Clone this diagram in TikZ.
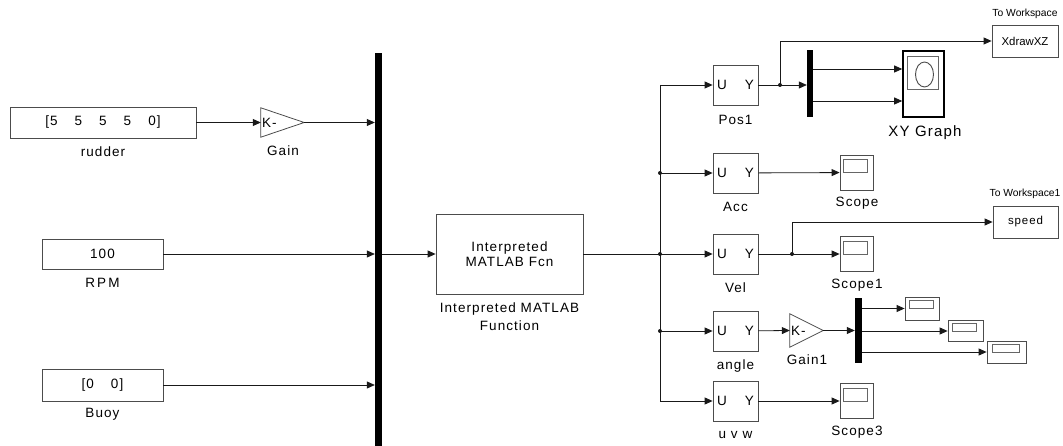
\documentclass[tikz,border=0pt]{standalone}
\usepackage{fontspec}
\setmainfont[LetterSpace=8]{Liberation Sans}
\newfontfamily\plainsans{Liberation Sans}
\usetikzlibrary{arrows.meta}

\begin{document}
\begin{tikzpicture}[x=1pt,y=-1pt,
  blk/.style={draw=black!70,line width=0.8pt,inner sep=0pt,fill=white,font=\fontsize{13.5}{15}\selectfont},
  uy/.style={blk,minimum width=45,minimum height=40},
  scp/.style={blk,minimum width=33,minimum height=35},
  lbl/.style={inner sep=0pt,font=\fontsize{13.5}{18}\selectfont,align=center},
  wsl/.style={inner sep=0pt,font=\plainsans\fontsize{10.3}{12}\selectfont},
  sig/.style={-{Triangle[length=8pt,width=7pt]},line width=0.8pt,draw=black!90},
  wire/.style={line width=0.8pt,draw=black!90},
  bar/.style={fill=black,inner sep=0pt,minimum width=7}]
\useasboundingbox (0,0) rectangle (1063,446);

% inputs
\node[blk,minimum width=186,minimum height=31] (rudder) at (103,122.5) {[5\hspace{17pt}5\hspace{17pt}5\hspace{17pt}5\hspace{17pt}0]};
\node[lbl] (rudderlbl) at (103,152) {rudder};
\node[blk,minimum width=121,minimum height=30] (rpm) at (102.5,254) {100};
\node[lbl] (rpmlbl) at (102.5,283) {R\,P\,M};
\node[blk,minimum width=121,minimum height=32] (buoy) at (102.5,385) {[0\hspace{17pt}0]};
\node[lbl] (buoylbl) at (102.5,414) {Buoy};

\node[minimum width=43,minimum height=29,inner sep=0pt] (gain) at (282.5,122.5) {};
\draw[blk] (gain.north west) -- (gain.east) -- (gain.south west) -- cycle;
\node[anchor=west,inner sep=0pt,font=\fontsize{13.5}{15}\selectfont] (gaink) at ([xshift=1pt]gain.west) {K-};
\node[lbl] (gainlbl) at (283,151) {Gain};

\node[bar,minimum height=400] (bus) at (378.5,253) {};
\draw[sig] (rudder) -- (gain.west);
\draw[sig] (gain.east) -- (gain.east -| bus.west);
\draw[sig] (rpm) -- (rpm -| bus.west);
\draw[sig] (buoy) -- (buoy -| bus.west);

% function
\node[blk,minimum width=147,minimum height=80,align=center] (fcn) at (509.5,254) {Interpreted\\MATLAB Fcn};
\node[lbl] (fcnlbl) at (509.5,317) {Interpreted MATLAB\\Function};
\draw[sig] (bus.east |- fcn) -- (fcn);

\coordinate (ttop) at (660,85);
\coordinate (tbot) at (660,401);
\draw[wire] (fcn.east) -- (fcn.east -| ttop);
\draw[wire] (ttop) -- (tbot);

% outputs
\node[uy] (pos1) at (735.5,85) {U\hspace{18pt}Y};
\node[lbl] (pos1lbl) at (735.5,120) {Pos1};
\node[uy] (acc) at (735.5,173) {U\hspace{18pt}Y};
\node[lbl] (acclbl) at (735.5,207) {Acc};
\node[uy] (vel) at (735.5,254) {U\hspace{18pt}Y};
\node[lbl] (vellbl) at (735.5,288) {Vel};
\node[uy] (angle) at (735.5,331) {U\hspace{18pt}Y};
\node[lbl] (anglelbl) at (735.5,366) {angle};
\node[uy] (uvw) at (735.5,401) {U\hspace{18pt}Y};
\node[lbl] (uvwlbl) at (735.5,435) {u v w};

\draw[sig] (ttop) -- (pos1);
\draw[sig] (acc -| ttop) -- (acc);
\draw[sig] (vel -| ttop) -- (vel);
\draw[sig] (angle -| ttop) -- (angle);
\draw[sig] (tbot) -- (uvw);
\fill[black!90] (acc -| ttop) circle (2);
\fill[black!90] (vel -| ttop) circle (2);
\fill[black!90] (angle -| ttop) circle (2);

% position
\node[bar,minimum width=6,minimum height=67] (mux) at (810,83.5) {};
\node[blk,minimum width=66,minimum height=32,font=\plainsans\fontsize{11.4}{13}\selectfont] (xdraw) at (1025,41) {XdrawXZ};
\node[wsl] (xdrawlbl) at (1025,14) {To Workspace};
\node[blk,line width=1.6pt,draw=black,minimum width=41,minimum height=66] (xy) at (923.5,84) {};
\draw[draw=black!60,line width=0.8pt] ([xshift=5.5pt,yshift=-6pt]xy.north west) rectangle ++(31,33);
\draw[draw=black!70,line width=0.9pt] (924.5,74.5) ellipse (9 and 12.5);
\node[lbl,font=\fontsize{15}{18}\selectfont] (xylbl) at (925,133) {XY Graph};
\coordinate (jpos) at (780,85);
\coordinate (xyin1) at ([yshift=15pt]xy.west);
\coordinate (xyin2) at ([yshift=-17pt]xy.west);
\draw[wire] (pos1) -- (jpos);
\draw[sig] (jpos) -- (jpos -| mux.west);
\draw[sig] (jpos) |- (xdraw);
\fill[black!90] (jpos) circle (2);
\draw[sig] (mux.east |- xyin1) -- (xyin1);
\draw[sig] (mux.east |- xyin2) -- (xyin2);

% acceleration
\node[scp] (scope) at (856.5,172.5) {};
\draw[draw=black!60,line width=0.8pt] ([xshift=4pt,yshift=-5pt]scope.north west) rectangle ++(24,13);
\node[lbl] (scopelbl) at (857,203) {Scope};
\draw[sig] (acc) -- (scope);

% velocity
\node[scp] (scope1) at (856.5,254) {};
\draw[draw=black!60,line width=0.8pt] ([xshift=4pt,yshift=-5pt]scope1.north west) rectangle ++(24,13);
\node[lbl] (scope1lbl) at (857,285) {Scope1};
\node[blk,minimum width=65,minimum height=32,font=\fontsize{11.5}{13}\selectfont] (speed) at (1025.5,222) {speed};
\node[wsl] (speedlbl) at (1025,194) {To Workspace1};
\coordinate (jvel) at (792,254);
\draw[wire] (vel) -- (jvel);
\draw[sig] (jvel) -- (scope1);
\draw[sig] (jvel) |- (speed);
\fill[black!90] (jvel) circle (2);

% angle
\node[minimum width=33,minimum height=33,inner sep=0pt] (gain1) at (806.5,330.5) {};
\draw[blk] (gain1.north west) -- (gain1.east) -- (gain1.south west) -- cycle;
\node[anchor=west,inner sep=0pt,font=\fontsize{13.5}{15}\selectfont] (gain1k) at ([xshift=1pt]gain1.west) {K-};
\node[lbl] (gain1lbl) at (807,360) {Gain1};
\node[bar,minimum height=65] (demux) at (858.5,330.5) {};
\node[blk,minimum width=34,minimum height=23] (sm1) at (922,308.5) {};
\node[blk,minimum width=35,minimum height=21] (sm2) at (965.5,331) {};
\node[blk,minimum width=39,minimum height=22] (sm3) at (1006.5,352) {};
\draw[draw=black!60,line width=0.8pt] ([xshift=5pt,yshift=-3.5pt]sm1.north west) rectangle ++(24,8);
\draw[draw=black!60,line width=0.8pt] ([xshift=5pt,yshift=-3pt]sm2.north west) rectangle ++(24,8);
\draw[draw=black!60,line width=0.8pt] ([xshift=6pt,yshift=-3.5pt]sm3.north west) rectangle ++(27,8);
\draw[sig] (angle) -- (gain1.west);
\draw[sig] (gain1.east) -- (gain1.east -| demux.west);
\draw[sig] (demux.east |- sm1) -- (sm1);
\draw[sig] (demux.east |- sm2) -- (sm2);
\draw[sig] (demux.east |- sm3) -- (sm3);

% body rates
\node[scp] (scope3) at (856.5,401) {};
\draw[draw=black!60,line width=0.8pt] ([xshift=4pt,yshift=-5pt]scope3.north west) rectangle ++(24,13);
\node[lbl] (scope3lbl) at (857,432) {Scope3};
\draw[sig] (uvw) -- (scope3);
\end{tikzpicture}
\end{document}
